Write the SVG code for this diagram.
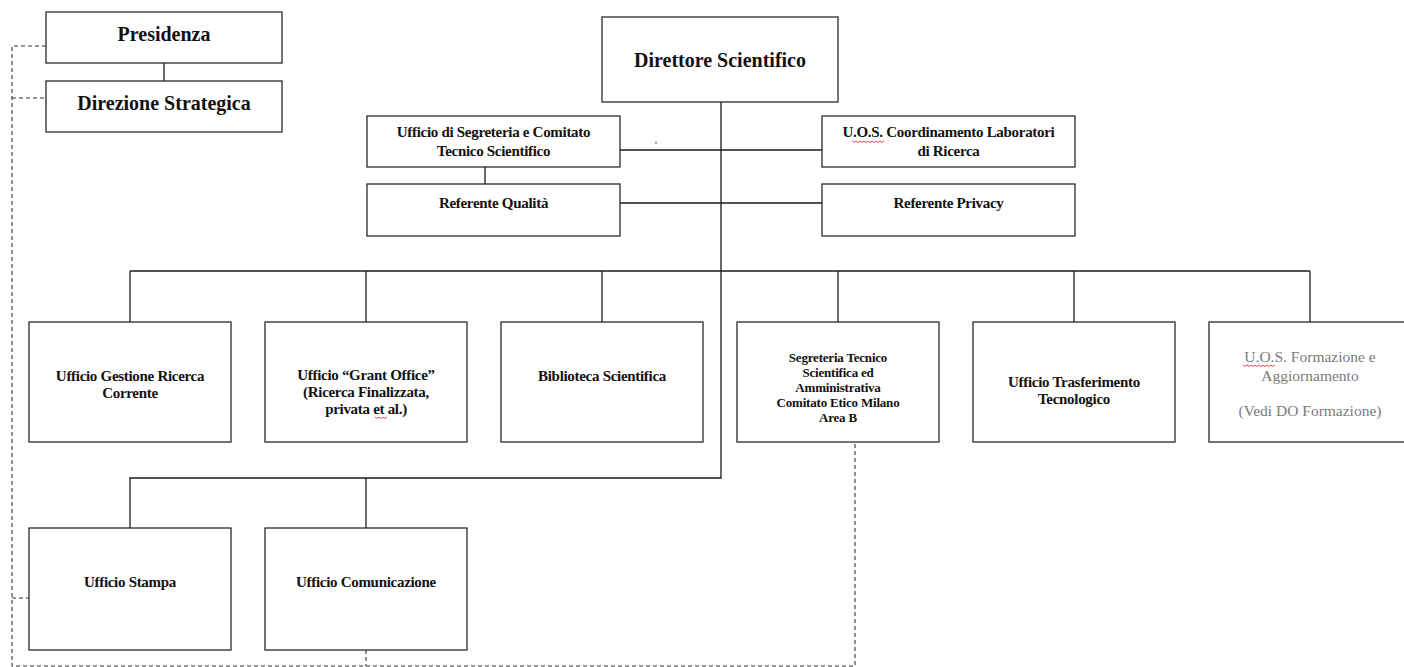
<svg xmlns="http://www.w3.org/2000/svg" width="1404" height="667" viewBox="0 0 1404 667">
<style>
  .box { fill: #ffffff; stroke: #2a2a2a; stroke-width: 1.3; }
  .ln { fill: none; stroke: #1a1a1a; stroke-width: 1.3; }
  .dash { fill: none; stroke: #333333; stroke-width: 1.1; stroke-dasharray: 4 3; }
  .big { font-family: "Liberation Serif", "Times New Roman", serif; font-size: 20px; font-weight: bold; fill: #111; text-anchor: middle; }
  .t { font-family: "Liberation Serif", "Times New Roman", serif; font-size: 15px; font-weight: bold; fill: #111; text-anchor: middle; letter-spacing: -0.3px; }
  .ts { font-family: "Liberation Serif", "Times New Roman", serif; font-size: 13px; font-weight: bold; fill: #111; text-anchor: middle; letter-spacing: -0.2px; }
  .tg { font-family: "Liberation Serif", "Times New Roman", serif; font-size: 15.5px; fill: #7a7a7a; text-anchor: middle; }
  .sq { fill: none; stroke: #e02020; stroke-width: 0.8; }
</style>

<g id="connectors">
  <line class="ln" x1="164" y1="63" x2="164" y2="81"/>
  <polyline class="ln" points="721,102 721,478 130,478 130,528"/>
  <line class="ln" x1="366" y1="478" x2="366" y2="528"/>
  <line class="ln" x1="130" y1="271" x2="1310" y2="271"/>
  <line class="ln" x1="130" y1="271" x2="130" y2="322"/>
  <line class="ln" x1="366" y1="271" x2="366" y2="322"/>
  <line class="ln" x1="602" y1="271" x2="602" y2="322"/>
  <line class="ln" x1="838" y1="271" x2="838" y2="322"/>
  <line class="ln" x1="1074" y1="271" x2="1074" y2="322"/>
  <line class="ln" x1="1310" y1="271" x2="1310" y2="322"/>
  <line class="ln" x1="620" y1="150" x2="822" y2="150"/>
  <line class="ln" x1="620" y1="203" x2="822" y2="203"/>
  <line class="ln" x1="485" y1="167" x2="485" y2="184"/>
  <polyline class="dash" points="46,46 12,46 12,666 855,666 855,443"/>
  <line class="dash" x1="12" y1="98" x2="46" y2="98"/>
  <line class="dash" x1="12" y1="598" x2="29" y2="598"/>
  <line class="dash" x1="366" y1="650" x2="366" y2="666"/>
  <rect x="655.5" y="141.5" width="1" height="2.5" fill="#555"/>
</g>

<g id="presidenza">
  <rect class="box" x="46" y="12" width="236" height="51"/>
  <text class="big" x="164" y="41">Presidenza</text>
</g>
<g id="direzione-strategica">
  <rect class="box" x="46" y="81" width="236" height="51"/>
  <text class="big" x="164" y="110">Direzione Strategica</text>
</g>
<g id="direttore-scientifico">
  <rect class="box" x="602" y="17" width="236" height="85"/>
  <text class="big" x="720" y="67">Direttore Scientifico</text>
</g>

<g id="ufficio-segreteria">
  <rect class="box" x="367" y="116" width="253" height="51"/>
  <text class="t" x="493.5" y="137">Ufficio di Segreteria e Comitato</text>
  <text class="t" x="493.5" y="156">Tecnico Scientifico</text>
</g>
<g id="referente-qualita">
  <rect class="box" x="367" y="184" width="253" height="52"/>
  <text class="t" x="493.5" y="208">Referente Qualità</text>
</g>
<g id="uos-coordinamento">
  <rect class="box" x="822" y="116" width="253" height="51"/>
  <text class="t" x="948.5" y="137">U.O.S. Coordinamento Laboratori</text>
  <text class="t" x="948.5" y="156">di Ricerca</text>
  <path class="sq" d="M852,141 l2,1.5 l2,-1.5 l2,1.5 l2,-1.5 l2,1.5 l2,-1.5 l2,1.5 l2,-1.5 l2,1.5 l2,-1.5 l2,1.5 l2,-1.5 l2,1.5 l2,-1.5 l2,1.5 l2,-1.5"/>
</g>
<g id="referente-privacy">
  <rect class="box" x="822" y="184" width="253" height="52"/>
  <text class="t" x="948.5" y="208">Referente Privacy</text>
</g>

<g id="ufficio-gestione-ricerca">
  <rect class="box" x="29" y="322" width="202" height="120"/>
  <text class="t" x="130" y="381">Ufficio Gestione Ricerca</text>
  <text class="t" x="130" y="398">Corrente</text>
</g>
<g id="grant-office">
  <rect class="box" x="265" y="322" width="202" height="120"/>
  <text class="t" x="366" y="380">Ufficio “Grant Office”</text>
  <text class="t" x="366" y="397">(Ricerca Finalizzata,</text>
  <text class="t" x="366" y="414">privata et al.)</text>
  <path class="sq" d="M375,417 l2,1.5 l2,-1.5 l2,1.5 l2,-1.5 l2,1.5 l2,-1.5"/>
</g>
<g id="biblioteca">
  <rect class="box" x="501" y="322" width="202" height="120"/>
  <text class="t" x="602" y="381">Biblioteca Scientifica</text>
</g>
<g id="segreteria-comitato-etico">
  <rect class="box" x="737" y="322" width="202" height="120"/>
  <text class="ts" x="838" y="362">Segreteria Tecnico</text>
  <text class="ts" x="838" y="377">Scientifica ed</text>
  <text class="ts" x="838" y="392">Amministrativa</text>
  <text class="ts" x="838" y="407">Comitato Etico  Milano</text>
  <text class="ts" x="838" y="422">Area B</text>
</g>
<g id="trasferimento-tecnologico">
  <rect class="box" x="973" y="322" width="202" height="120"/>
  <text class="t" x="1074" y="387">Ufficio Trasferimento</text>
  <text class="t" x="1074" y="404">Tecnologico</text>
</g>
<g id="uos-formazione">
  <rect class="box" x="1209" y="322" width="202" height="120"/>
  <text class="tg" x="1310" y="362">U.O.S. Formazione e</text>
  <text class="tg" x="1310" y="381">Aggiornamento</text>
  <text class="tg" x="1310" y="416">(Vedi DO Formazione)</text>
  <path class="sq" d="M1243,365 l2,1.5 l2,-1.5 l2,1.5 l2,-1.5 l2,1.5 l2,-1.5 l2,1.5 l2,-1.5 l2,1.5 l2,-1.5 l2,1.5 l2,-1.5 l2,1.5 l2,-1.5 l2,1.5 l2,-1.5"/>
</g>

<g id="ufficio-stampa">
  <rect class="box" x="29" y="528" width="202" height="122"/>
  <text class="t" x="130" y="587">Ufficio Stampa</text>
</g>
<g id="ufficio-comunicazione">
  <rect class="box" x="265" y="528" width="202" height="122"/>
  <text class="t" x="366" y="587">Ufficio Comunicazione</text>
</g>
</svg>
